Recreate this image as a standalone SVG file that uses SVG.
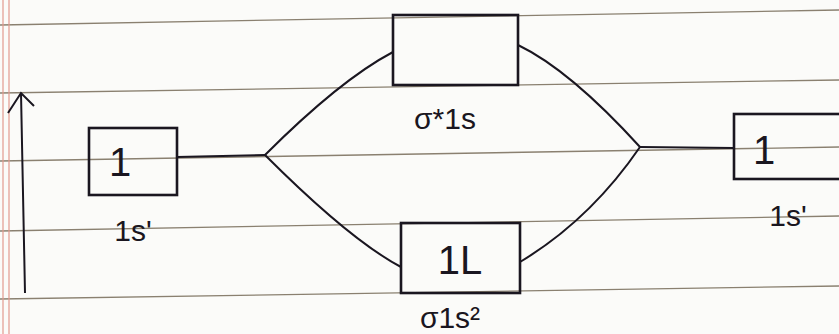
<svg xmlns="http://www.w3.org/2000/svg" width="839" height="334" viewBox="0 0 839 334">
<style>
.rule{stroke:#8a8070;stroke-width:1.3;fill:none}
.margin{stroke:#e39a8e;stroke-width:1.2}
.box{fill:none;stroke:#1a1620;stroke-width:2.6}
.conn{fill:none;stroke:#1a1620;stroke-width:2}
.t{font-family:"Liberation Sans",Arial,sans-serif;fill:#1a1620;text-anchor:middle}
.e{font-size:40px}
.l{font-size:30px}
</style>
<rect width="839" height="334" fill="#fbfbf9"/>
<g id="paper">
<line class="rule" x1="0" y1="25" x2="839" y2="10"/>
<line class="rule" x1="0" y1="93" x2="839" y2="80"/>
<line class="rule" x1="0" y1="161" x2="839" y2="147"/>
<line class="rule" x1="0" y1="231" x2="839" y2="216"/>
<line class="rule" x1="0" y1="299" x2="839" y2="286"/>
<line class="margin" x1="3" y1="0" x2="3" y2="334"/>
<line class="margin" x1="9" y1="0" x2="9" y2="334"/>
</g>
<g id="energy-axis">
<path class="conn" d="M25 293 L21 93 M8 113 L21 93 L34 106" stroke-width="2.4"/>
</g>
<g id="connectors">
<path class="conn" d="M177 157 L265 155"/>
<path class="conn" d="M265 155 Q340 80 393 52"/>
<path class="conn" d="M265 155 Q350 240 401 267"/>
<path class="conn" d="M518 45 Q570 70 640 147"/>
<path class="conn" d="M520 262 Q590 220 640 147"/>
<path class="conn" d="M640 147 L734 148"/>
</g>
<g id="h-left">
<rect class="box" x="89" y="128" width="88" height="67"/>
<text class="t e" x="120" y="176">1</text>
<text class="t l" x="133" y="241">1s'</text>
</g>
<g id="sigma-star">
<rect class="box" x="393" y="15" width="125" height="70"/>
<text class="t l" x="445" y="129">σ*1s</text>
</g>
<g id="sigma">
<rect class="box" x="401" y="223" width="119" height="70"/>
<text class="t e" x="460" y="274">1L</text>
<text class="t l" x="450" y="328">σ1s²</text>
</g>
<g id="h-right">
<rect class="box" x="734" y="114" width="110" height="65"/>
<text class="t e" x="764" y="164">1</text>
<text class="t l" x="788" y="226">1s'</text>
</g>
</svg>
